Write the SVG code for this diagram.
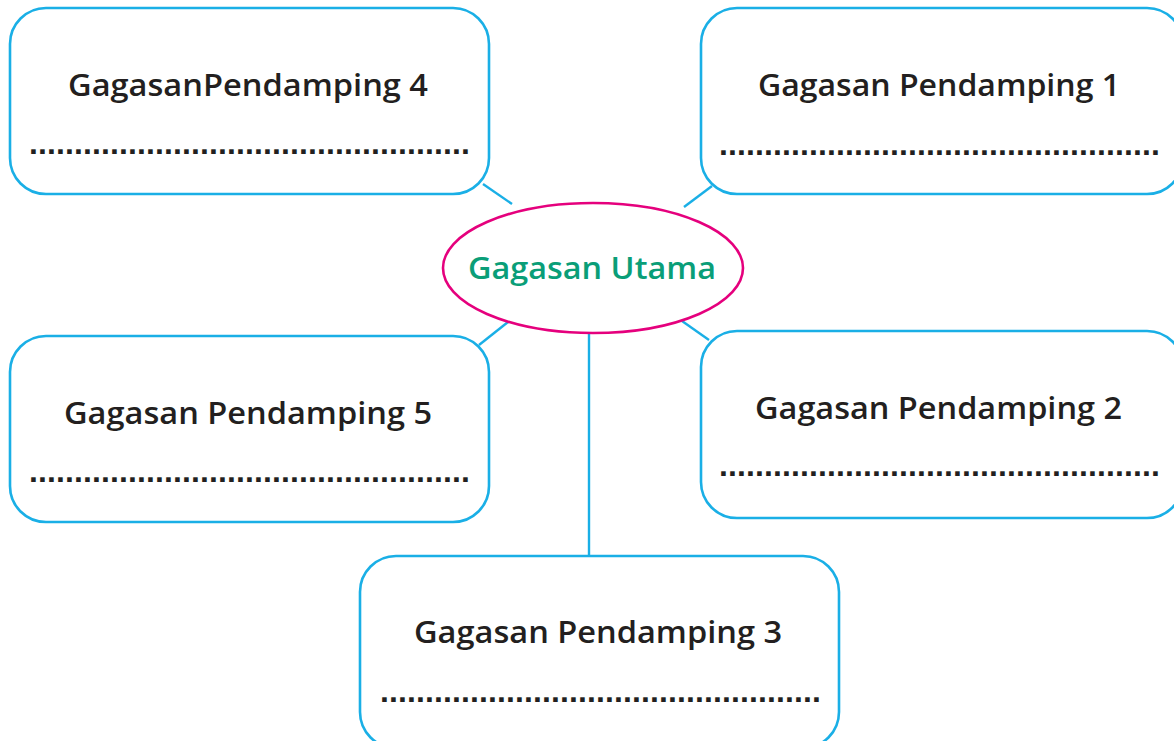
<svg xmlns="http://www.w3.org/2000/svg" width="1174" height="741" viewBox="0 0 1174 741">
<style>
.box{fill:#fff;stroke:#1aafe6;stroke-width:2.6}
.conn{stroke:#1aafe6;stroke-width:2.4;fill:none}
.t{font-family:"Open Sans","Liberation Sans",sans-serif;font-weight:600;font-size:30px;fill:#231f20}
.d{font-family:"Liberation Sans",sans-serif;font-weight:700;font-size:32px;fill:#231f20}
.main{font-family:"Open Sans","Liberation Sans",sans-serif;font-weight:600;font-size:30px;fill:#0a9e78}
</style>
<rect width="1174" height="741" fill="#fff"/>
<g id="connectors">
<line class="conn" x1="483" y1="184" x2="512" y2="204"/>
<line class="conn" x1="712" y1="186" x2="684" y2="207"/>
<line class="conn" x1="479" y1="345" x2="508" y2="322"/>
<line class="conn" x1="709" y1="340" x2="682" y2="321"/>
<line class="conn" x1="589" y1="333" x2="589" y2="557"/>
</g>
<g id="node4">
<rect class="box" x="10" y="8" width="479" height="186" rx="36"/>
<text class="t" x="68" y="96" textLength="360" lengthAdjust="spacingAndGlyphs">GagasanPendamping 4</text>
<text class="d" x="29" y="154" textLength="441" lengthAdjust="spacing">.................................................</text>
</g>
<g id="node1">
<rect class="box" x="701" y="8" width="482" height="186" rx="36"/>
<text class="t" x="758" y="96" textLength="362" lengthAdjust="spacingAndGlyphs">Gagasan Pendamping 1</text>
<text class="d" x="719" y="155" textLength="441" lengthAdjust="spacing">.................................................</text>
</g>
<g id="node5">
<rect class="box" x="10" y="336" width="479" height="186" rx="36"/>
<text class="t" x="64" y="424" textLength="368" lengthAdjust="spacingAndGlyphs">Gagasan Pendamping 5</text>
<text class="d" x="29" y="482" textLength="441" lengthAdjust="spacing">.................................................</text>
</g>
<g id="node2">
<rect class="box" x="701" y="331" width="482" height="187" rx="36"/>
<text class="t" x="755" y="419" textLength="367" lengthAdjust="spacingAndGlyphs">Gagasan Pendamping 2</text>
<text class="d" x="719" y="476" textLength="441" lengthAdjust="spacing">.................................................</text>
</g>
<g id="node3">
<rect class="box" x="360" y="556" width="479" height="192" rx="36"/>
<text class="t" x="414" y="643" textLength="368" lengthAdjust="spacingAndGlyphs">Gagasan Pendamping 3</text>
<text class="d" x="380" y="702" textLength="441" lengthAdjust="spacing">.................................................</text>
</g>
<g id="main">
<ellipse cx="593" cy="268" rx="150" ry="65" fill="#fff" stroke="#e5007d" stroke-width="2.6"/>
<text class="main" x="468" y="279" textLength="248" lengthAdjust="spacingAndGlyphs">Gagasan Utama</text>
</g>
</svg>
